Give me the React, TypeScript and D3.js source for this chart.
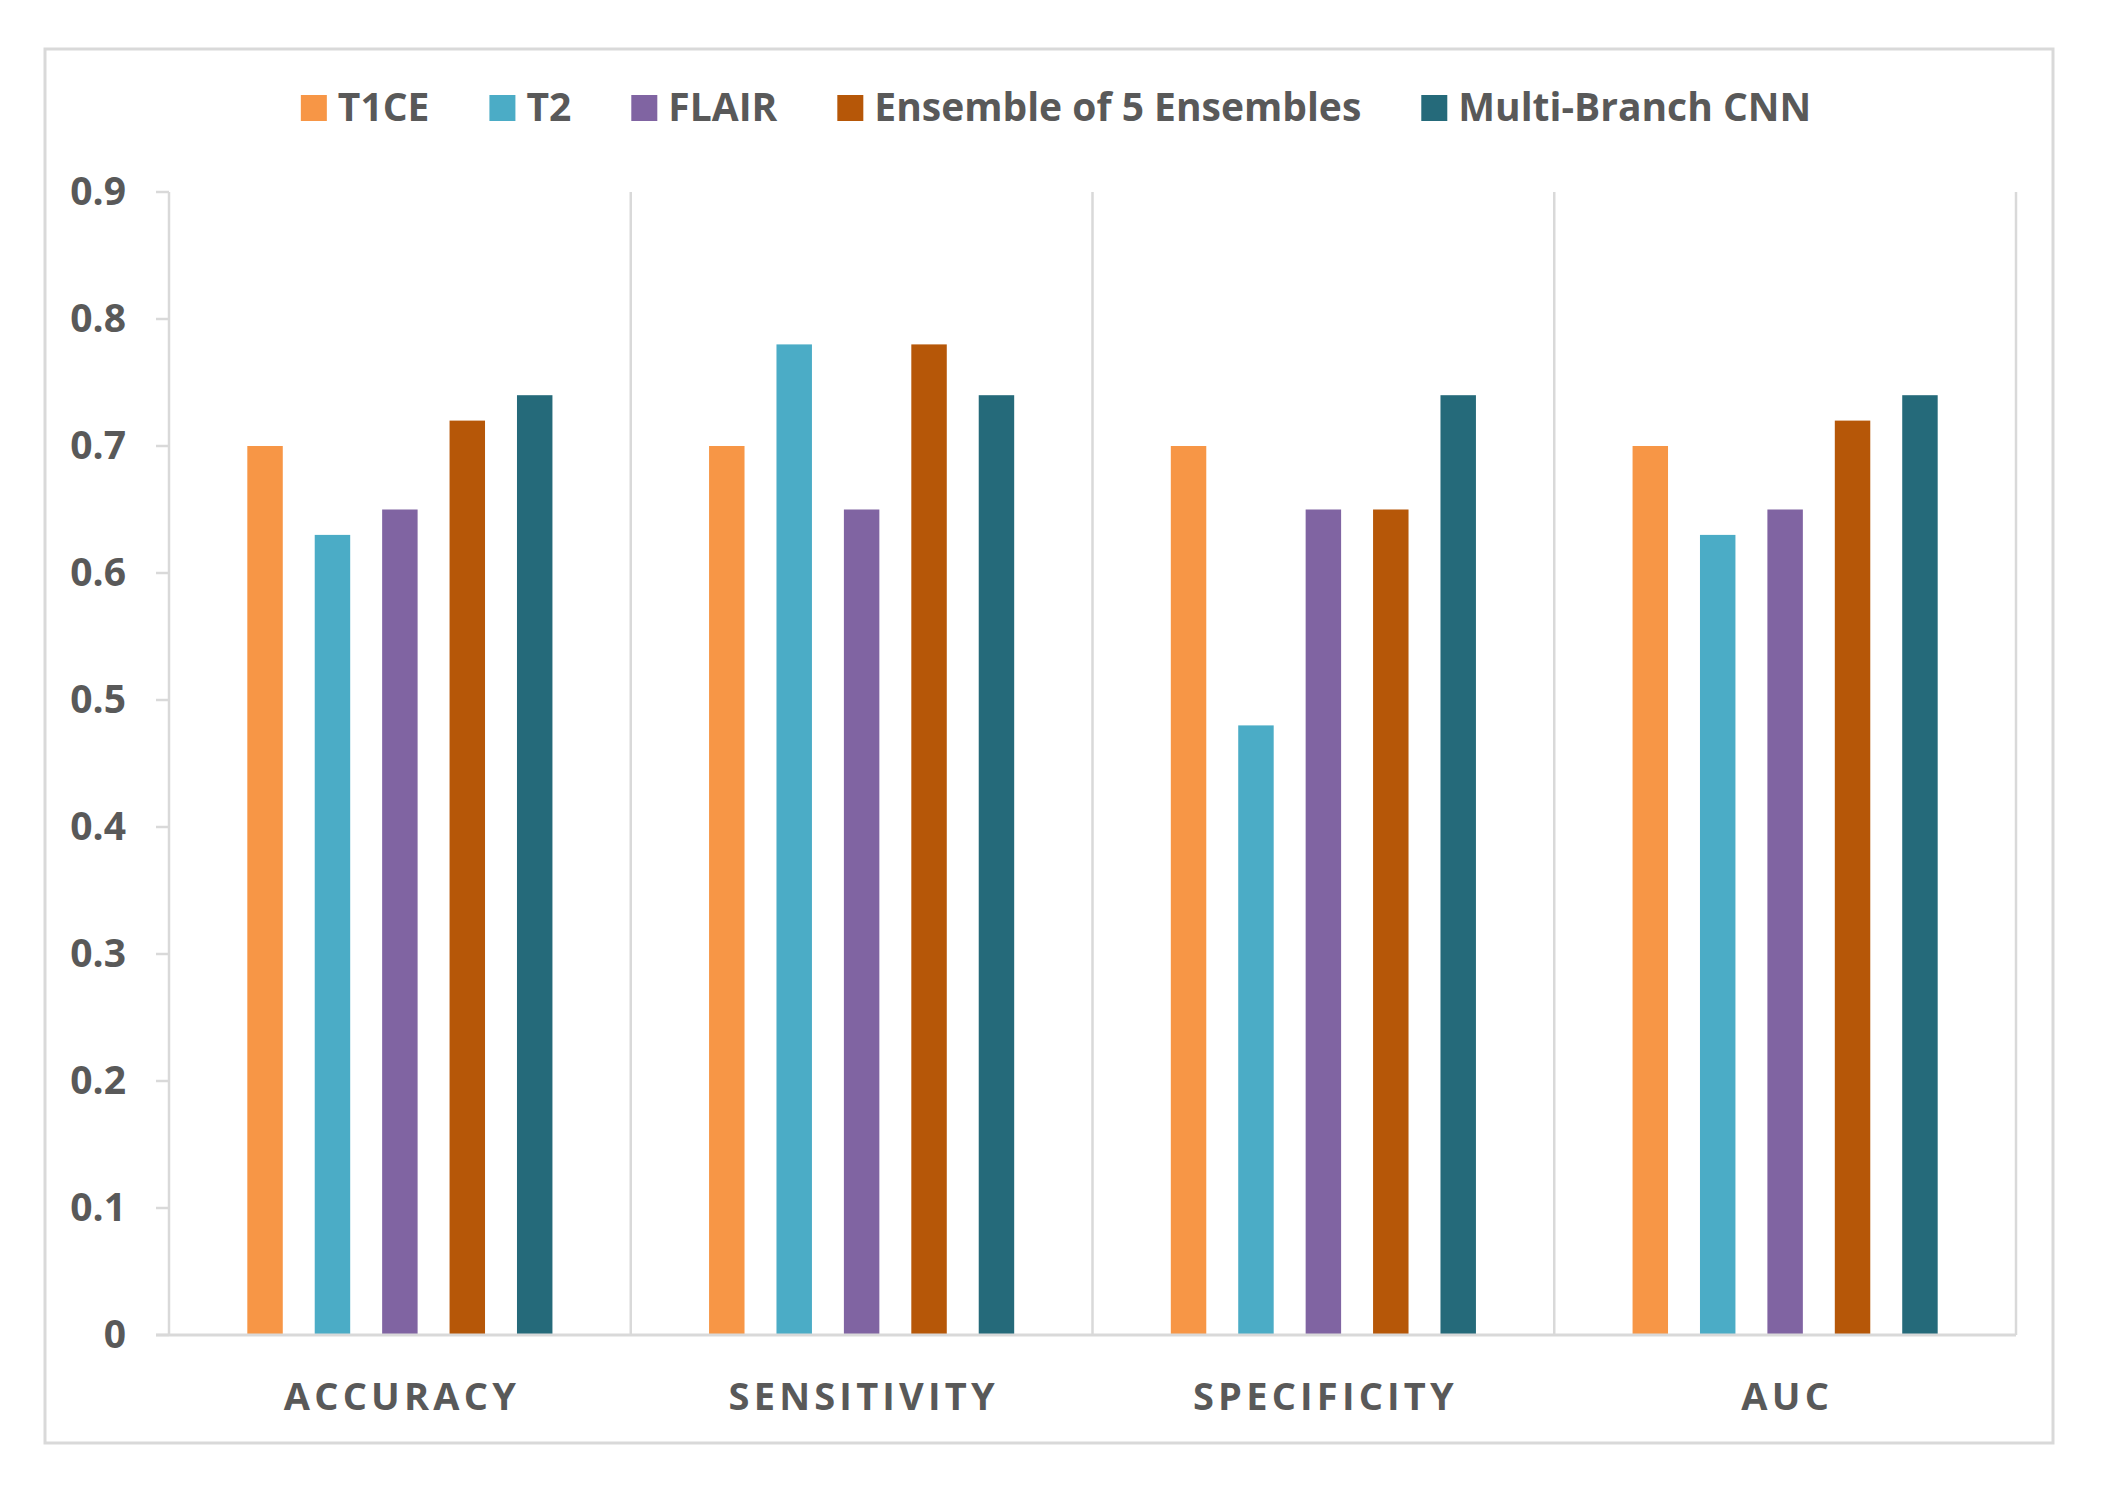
import React, { useEffect, useRef } from "react";
import * as d3 from "d3";

const categories = ["ACCURACY", "SENSITIVITY", "SPECIFICITY", "AUC"];
const seriesNames = ["T1CE", "T2", "FLAIR", "Ensemble of 5 Ensembles", "Multi-Branch CNN"];
const seriesColors = ["#F79646", "#4BACC6", "#8064A2", "#B65708", "#256A7A"];
const t1ce = [0.7, 0.7, 0.7, 0.7];
const t2 = [0.63, 0.78, 0.48, 0.63];
const flair = [0.65, 0.65, 0.65, 0.65];
const ensemble = [0.72, 0.78, 0.65, 0.72];
const multiBranch = [0.74, 0.74, 0.74, 0.74];
const yTicks = [0, 0.1, 0.2, 0.3, 0.4, 0.5, 0.6, 0.7, 0.8, 0.9];

const W = 2108;
const H = 1497;
const FONT = "'Open Sans', 'Noto Sans', sans-serif";
const TEXT = "#595959";
const GRID = "#d9d9d9";

export default function App() {
  const ref = useRef<SVGSVGElement | null>(null);

  useEffect(() => {
    const svg = d3.select(ref.current);
    svg.selectAll("*").remove();

    const series = [t1ce, t2, flair, ensemble, multiBranch];
    const plot = { left: 169, right: 2016, top: 192, bottom: 1335 };

    // outer frame
    svg
      .append("rect")
      .attr("x", 45)
      .attr("y", 49)
      .attr("width", 2053 - 45)
      .attr("height", 1443 - 49)
      .attr("fill", "#fff")
      .attr("stroke", GRID)
      .attr("stroke-width", 3);

    const y = d3.scaleLinear().domain([0, 0.9]).range([plot.bottom, plot.top]);
    const x0 = d3.scaleBand<string>().domain(categories).range([plot.left, plot.right]).padding(0);
    const cw = x0.bandwidth();
    const barW = cw * 0.0768;
    const step = cw * 0.146;
    const groupW = step * 4 + barW;
    const pad = (cw - groupW) / 2;

    // y axis line + ticks
    svg
      .append("line")
      .attr("x1", plot.left)
      .attr("x2", plot.left)
      .attr("y1", plot.top)
      .attr("y2", plot.bottom)
      .attr("stroke", GRID)
      .attr("stroke-width", 2.5);

    const yt = svg.append("g");
    yTicks.forEach((t) => {
      yt.append("line")
        .attr("x1", plot.left - 13)
        .attr("x2", plot.left)
        .attr("y1", y(t))
        .attr("y2", y(t))
        .attr("stroke", GRID)
        .attr("stroke-width", 2.5);
      yt.append("text")
        .attr("x", 126)
        .attr("y", y(t) + 13)
        .attr("text-anchor", "end")
        .attr("font-family", FONT)
        .attr("font-weight", 700)
        .attr("font-size", 39)
        .attr("fill", TEXT)
        .text(t === 0 ? "0" : d3.format(".1f")(t));
    });

    // category separators
    categories.forEach((c) => {
      const xr = (x0(c) as number) + cw;
      svg
        .append("line")
        .attr("x1", xr)
        .attr("x2", xr)
        .attr("y1", plot.top)
        .attr("y2", plot.bottom)
        .attr("stroke", GRID)
        .attr("stroke-width", 2.5);
    });

    // bars
    series.forEach((vals, si) => {
      svg
        .append("g")
        .selectAll("rect")
        .data(vals)
        .join("rect")
        .attr("x", (_d, i) => (x0(categories[i]) as number) + pad + si * step)
        .attr("y", (d) => y(d))
        .attr("width", barW)
        .attr("height", (d) => plot.bottom - y(d))
        .attr("fill", seriesColors[si]);
    });

    // x baseline
    svg
      .append("line")
      .attr("x1", plot.left - 13)
      .attr("x2", plot.right)
      .attr("y1", plot.bottom)
      .attr("y2", plot.bottom)
      .attr("stroke", GRID)
      .attr("stroke-width", 3);

    // x labels
    categories.forEach((c) => {
      const ls = 4.2;
      svg
        .append("text")
        .attr("x", (x0(c) as number) + cw / 2 + ls / 2)
        .attr("y", 1410)
        .attr("text-anchor", "middle")
        .attr("font-family", FONT)
        .attr("font-weight", 700)
        .attr("font-size", 38)
        .attr("letter-spacing", ls)
        .attr("fill", TEXT)
        .text(c);
    });

    // legend
    const lg = svg.append("g");
    const sq = 26;
    const gapIn = 11;
    const gapOut = 60;
    const items = seriesNames.map((name, i) => {
      const g = lg.append("g");
      g.append("rect").attr("width", sq).attr("height", sq).attr("y", 95).attr("fill", seriesColors[i]);
      const t = g
        .append("text")
        .attr("x", sq + gapIn)
        .attr("y", 121)
        .attr("font-family", FONT)
        .attr("font-weight", 700)
        .attr("font-size", 39)
        .attr("fill", TEXT)
        .text(name);
      const tw = (t.node() as SVGTextElement).getComputedTextLength();
      return { g, w: sq + gapIn + tw };
    });
    const total = d3.sum(items, (d) => d.w) + gapOut * (items.length - 1);
    let cx = 1056 - total / 2;
    items.forEach((it) => {
      it.g.attr("transform", `translate(${cx},0)`);
      cx += it.w + gapOut;
    });
  }, []);

  return (
    <svg
      ref={ref}
      width={W}
      height={H}
      viewBox={`0 0 ${W} ${H}`}
      style={{ position: "absolute", left: 0, top: 0, background: "#fff" }}
    />
  );
}
